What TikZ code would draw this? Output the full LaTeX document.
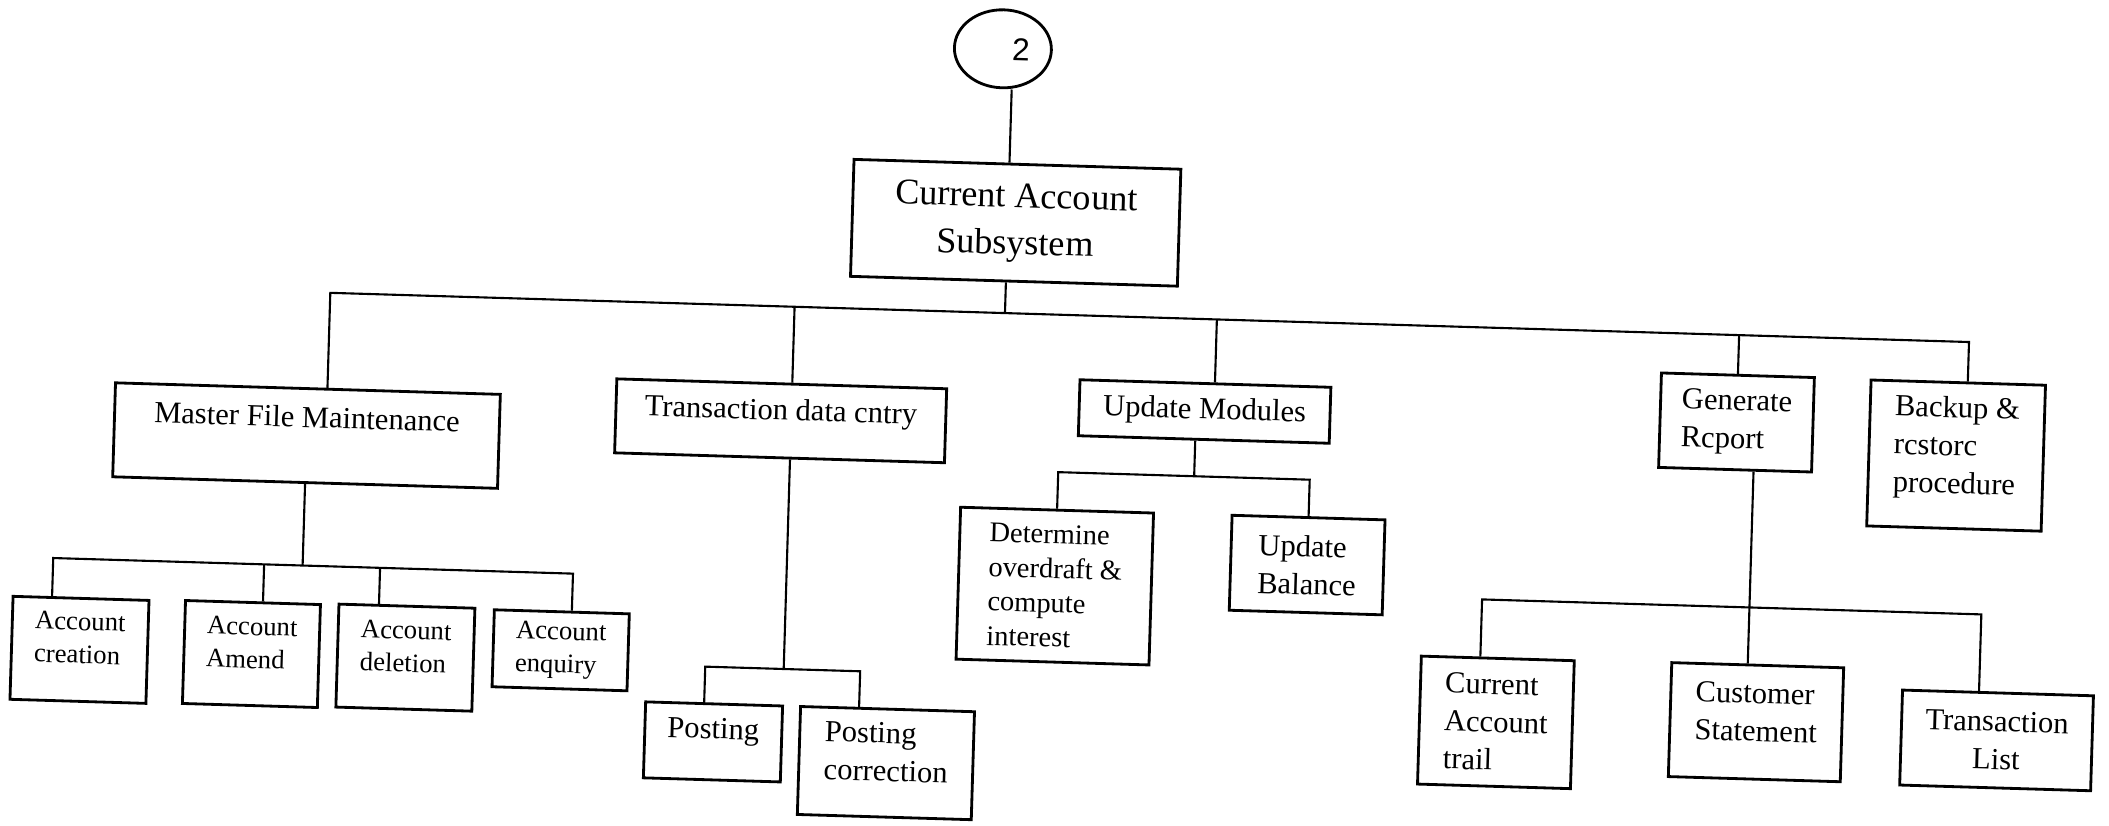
\documentclass[tikz,border=0pt]{standalone}
\usepackage{fontspec}
\setmainfont{Liberation Serif}
\setsansfont{Liberation Sans}
\usetikzlibrary{shapes.geometric}

\begin{document}
\begin{tikzpicture}[
  modbox/.style={draw,line width=.8pt,inner sep=1pt,align=left,
    font=\fontsize{8.7}{10.8}\selectfont},
  acctbox/.style={modbox,font=\fontsize{7.6}{9.4}\selectfont},
  link/.style={line width=.6pt}]
\useasboundingbox (0,0) rectangle (21.09,-8.26);

\begin{scope}[transform canvas={rotate around={-1.72:(10.54,-4.13)}}]
\node[ellipse,draw,line width=.8pt,minimum width=.97cm,minimum height=.78cm,
  inner sep=0pt,font=\sffamily\fontsize{9}{9}\selectfont] (root) at (9.92,-.505) {\hspace{.36cm}2};
\node[modbox,align=center,minimum width=3.27cm,minimum height=1.17cm,
  font=\fontsize{10.3}{13.4}\selectfont] (cas) at (10.10,-2.24) {Current Account\\Subsystem};

\node[modbox,minimum width=3.85cm,minimum height=.94cm,text depth=10.8pt] (mfm) at (3.075,-4.58) {Master File Maintenance};
\node[modbox,minimum width=3.30cm,minimum height=.74cm,text depth=6.5pt] (tde) at (7.81,-4.29) {Transaction data cntry};
\node[modbox,minimum width=2.51cm,minimum height=.56cm] (um) at (12.045,-4.07) {Update Modules};
\node[modbox,minimum width=1.53cm,minimum height=.945cm] (gr) at (17.365,-4.02) {Generate\\Rcport};
\node[modbox,minimum width=1.745cm,minimum height=1.46cm,text depth=6pt] (bkp) at (19.57,-4.285) {Backup \&\\rcstorc\\procedure};

\node[acctbox,minimum width=1.36cm,minimum height=1.03cm,text depth=6.8pt] (acr) at (.87,-6.79) {Account\\creation};
\node[acctbox,minimum width=1.35cm,minimum height=1.03cm,text depth=6.3pt] (aam) at (2.59,-6.78) {Account\\Amend};
\node[acctbox,minimum width=1.36cm,minimum height=1.03cm,text depth=6.3pt] (ade) at (4.13,-6.77) {Account\\deletion};
\node[acctbox,minimum width=1.35cm,minimum height=.77cm] (aen) at (5.68,-6.65) {Account\\enquiry};

\node[modbox,minimum width=1.37cm,minimum height=.76cm,text depth=7.6pt] (pst) at (7.23,-7.52) {Posting};
\node[modbox,minimum width=1.74cm,minimum height=1.08cm,text depth=6.3pt] (pco) at (8.965,-7.68) {Posting\\correction};

\node[modbox,minimum width=1.93cm,minimum height=1.52cm,
  font=\fontsize{8.1}{9.8}\selectfont] (det) at (10.60,-5.86) {Determine\\overdraft \&\\compute\\interest};
\node[modbox,minimum width=1.53cm,minimum height=.95cm] (ubl) at (13.116,-5.574) {Update\\Balance};

\node[modbox,minimum width=1.53cm,minimum height=1.28cm] (cat) at (15.05,-7.09) {Current\\Account\\trail};
\node[modbox,minimum width=1.72cm,minimum height=1.14cm,text depth=5.7pt] (cst) at (17.65,-7.01) {Customer\\Statement};
\node[modbox,align=center,minimum width=1.91cm,minimum height=.95cm] (tls) at (20.06,-7.12) {Transaction\\List};

\coordinate (bus) at (10.02,-3.146);
\coordinate (mfmBus) at (3.075,-5.88);
\coordinate (tdeBus) at (7.915,-6.77);
\coordinate (umBus) at (11.96,-4.72);
\coordinate (grBus) at (17.55,-5.865);

\draw[link] (root.south -| bus) -- (cas.north -| bus);
\draw[link] (cas.south -| bus) -- (bus);
\draw[link] ([xshift=.195cm]mfm.north) |- (bus) -| ([xshift=.095cm]bkp.north);
\draw[link] ([xshift=.105cm]tde.north) -- ([xshift=.105cm]tde.north |- bus);
\draw[link] ([xshift=.095cm]um.north) -- ([xshift=.095cm]um.north |- bus);
\draw[link] (gr.north) -- (gr.north |- bus);

\draw[link] (mfm.south) -- (mfmBus);
\draw[link] ([xshift=-.29cm]acr.north) |- (mfmBus) -| ([xshift=.1cm]aen.north);
\draw[link] ([xshift=.1cm]aam.north) -- ([xshift=.1cm]aam.north |- mfmBus);
\draw[link] ([xshift=-.28cm]ade.north) -- ([xshift=-.28cm]ade.north |- mfmBus);

\draw[link] ([xshift=.105cm]tde.south) -- (tdeBus);
\draw[link] ([xshift=-.1cm]pst.north) |- (tdeBus) -| ([xshift=-.285cm]pco.north);

\draw[link] ([xshift=-.085cm]um.south) -- (umBus);
\draw[link] (det.north) |- (umBus) -| (ubl.north);

\draw[link] ([xshift=.185cm]gr.south) -- ([xshift=.185cm]gr.south |- cst.north);
\draw[link] ([xshift=-.175cm]cat.north) |- (grBus) -| ([xshift=-.19cm]tls.north);
\end{scope}
\end{tikzpicture}
\end{document}
